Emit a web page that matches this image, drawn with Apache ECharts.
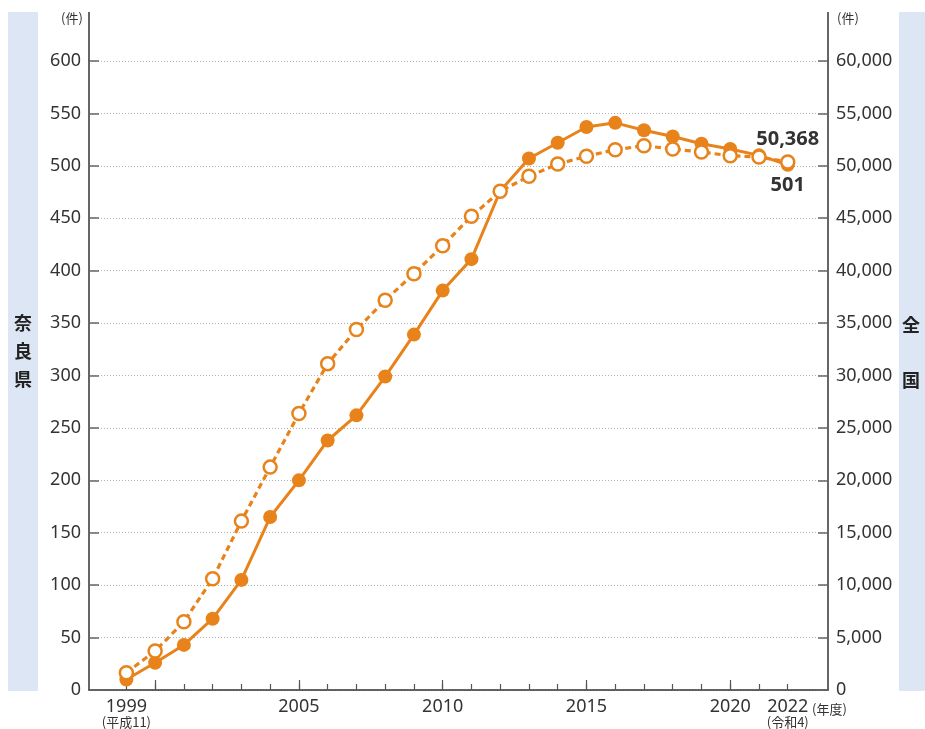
<!DOCTYPE html>
<html>
<head>
<meta charset="utf-8">
<script src="https://cdn.jsdelivr.net/npm/echarts@6/dist/echarts.min.js"></script>
<style>
  html, body { margin: 0; padding: 0; background: #fff; }
  #container { width: 925px; height: 729px; }
</style>
</head>
<body>
<div id="container"></div>
<script>
/*データ*/
var years = [1999, 2000, 2001, 2002, 2003, 2004, 2005, 2006, 2007, 2008, 2009, 2010,
    2011, 2012, 2013, 2014, 2015, 2016, 2017, 2018, 2019, 2020, 2021, 2022];
/*奈良県（左軸）*/
var naraValues = [10, 26, 43, 68, 105, 165, 200, 238, 262, 299, 339, 381,
    411, 476, 507, 522, 537, 541, 534, 528, 521, 516, 510, 501];
/*全国（右軸）*/
var zenkokuValues = [1650, 3720, 6510, 10610, 16110, 21260, 26370, 31130, 34380, 37180, 39710, 42380,
    45190, 47570, 49000, 50170, 50910, 51540, 51920, 51600, 51320, 50960, 50840, 50368];
/*軸ラベル*/
var xLabelYears = [1999, 2005, 2010, 2015, 2020, 2022];
var xSubLabels = { 1999: '(平成11)', 2022: '(令和4)' };
var xMajorTicks = [2000, 2005, 2010, 2015, 2020];

var ORANGE = '#e8831b';
var TEXT = '#333';
var FONT = '"Noto Sans", "Noto Sans CJK JP", sans-serif';
var CJK = '"Noto Sans CJK JP", "Noto Sans", sans-serif';

function pairs(vals) {
    var out = [];
    for (var i = 0; i < years.length; i++) {
        out.push([years[i], vals[i]]);
    }
    return out;
}

var naraData = pairs(naraValues);
var zenkokuData = pairs(zenkokuValues);

/*最後の点にラベル*/
var last = years.length - 1;
naraData[last] = {
    value: naraData[last],
    label: {
        show: true, position: 'bottom', distance: 4,
        fontFamily: FONT, fontSize: 20, fontWeight: 'bold', color: TEXT,
        formatter: function (p) { return p.value[1]; }
    }
};
zenkokuData[last] = {
    value: zenkokuData[last],
    label: {
        show: true, position: 'top', distance: 5,
        fontFamily: FONT, fontSize: 20, fontWeight: 'bold', color: TEXT,
        formatter: function (p) { return p.value[1].toLocaleString('en-US'); }
    }
};

var dom = document.getElementById('container');
var myChart = echarts.init(dom);

var option = {
    animation: false,
    grid: { left: 89, right: 97, top: 61, bottom: 36 },
    xAxis: [{
        type: 'value',
        min: 1997.7,
        max: 2023.4,
        axisLine: { show: true, onZero: false, lineStyle: { color: '#333', width: 1.5 } },
        axisTick: {
            show: true, inside: true, length: 6,
            customValues: years,
            lineStyle: { color: '#555', width: 1.2 }
        },
        axisLabel: {
            customValues: xLabelYears,
            margin: 8,
            color: TEXT,
            fontFamily: FONT,
            fontSize: 18,
            lineHeight: 18,
            formatter: function (v) {
                var s = xSubLabels[v];
                return s ? v + '\n{s|' + s + '}' : String(v);
            },
            rich: {
                s: { fontFamily: CJK, fontSize: 13, lineHeight: 13, color: TEXT }
            }
        },
        splitLine: { show: false }
    }, {
        type: 'value',
        position: 'bottom',
        min: 1997.7,
        max: 2023.4,
        axisLine: { show: false },
        axisTick: {
            show: true, inside: true, length: 10,
            customValues: xMajorTicks,
            lineStyle: { color: '#555', width: 1.2 }
        },
        axisLabel: { show: false },
        splitLine: { show: false }
    }],
    yAxis: [{
        type: 'value',
        position: 'left',
        min: 0, max: 600, interval: 50,
        axisLine: { show: true, lineStyle: { color: '#333', width: 1.5 } },
        axisTick: { show: true, inside: true, length: 10, lineStyle: { color: '#666', width: 1.5 } },
        axisLabel: { margin: 8, color: TEXT, fontFamily: FONT, fontSize: 18 },
        splitLine: { show: true, lineStyle: { color: '#b0b0b0', type: [1, 2], width: 1 } }
    }, {
        type: 'value',
        position: 'right',
        min: 0, max: 60000, interval: 5000,
        axisLine: { show: true, lineStyle: { color: '#333', width: 1.5 } },
        axisTick: { show: true, inside: true, length: 10, lineStyle: { color: '#666', width: 1.5 } },
        axisLabel: {
            margin: 8, color: TEXT, fontFamily: FONT, fontSize: 18,
            formatter: function (v) { return v.toLocaleString('en-US'); }
        },
        splitLine: { show: false }
    }],
    graphic: [
        /*左右の帯*/
        { type: 'rect', left: 8, top: 12, shape: { width: 30, height: 679 }, style: { fill: '#dce6f4' }, z: -10 },
        { type: 'rect', left: 899, top: 12, shape: { width: 30, height: 679 }, style: { fill: '#dce6f4' }, z: -10 },
        { type: 'text', x: 23, y: 323, style: { text: '奈', font: 'bold 18px ' + CJK, fill: '#222', align: 'center', verticalAlign: 'middle' } },
        { type: 'text', x: 23, y: 351, style: { text: '良', font: 'bold 18px ' + CJK, fill: '#222', align: 'center', verticalAlign: 'middle' } },
        { type: 'text', x: 23, y: 379, style: { text: '県', font: 'bold 18px ' + CJK, fill: '#222', align: 'center', verticalAlign: 'middle' } },
        { type: 'text', x: 911, y: 325, style: { text: '全', font: 'bold 18px ' + CJK, fill: '#222', align: 'center', verticalAlign: 'middle' } },
        { type: 'text', x: 911, y: 380, style: { text: '国', font: 'bold 18px ' + CJK, fill: '#222', align: 'center', verticalAlign: 'middle' } },
        /*単位*/
        { type: 'text', x: 72, y: 18, style: { text: '(件)', font: '13px ' + CJK, fill: TEXT, align: 'center', verticalAlign: 'middle' } },
        { type: 'text', x: 848, y: 18, style: { text: '(件)', font: '13px ' + CJK, fill: TEXT, align: 'center', verticalAlign: 'middle' } },
        { type: 'text', x: 812, y: 709, style: { text: '(年度)', font: '13px ' + CJK, fill: TEXT, align: 'left', verticalAlign: 'middle' } },
        /*軸線の上部延長*/
        { type: 'line', shape: { x1: 89, y1: 12, x2: 89, y2: 61 }, style: { stroke: '#333', lineWidth: 1.5 } },
        { type: 'line', shape: { x1: 828, y1: 12, x2: 828, y2: 61 }, style: { stroke: '#333', lineWidth: 1.5 } }
    ],
    series: [{
        name: '奈良県',
        type: 'line',
        xAxisIndex: 0,
        yAxisIndex: 0,
        data: naraData,
        symbol: 'circle',
        symbolSize: 14,
        lineStyle: { color: ORANGE, width: 3 },
        itemStyle: { color: ORANGE },
        z: 2
    }, {
        name: '全国',
        type: 'line',
        xAxisIndex: 0,
        yAxisIndex: 1,
        data: zenkokuData,
        symbol: 'circle',
        symbolSize: 13,
        lineStyle: { color: ORANGE, width: 3.2, type: [6, 4] },
        itemStyle: { color: '#fff', borderColor: ORANGE, borderWidth: 2.5 },
        z: 3
    }]
};

if (option && typeof option === 'object') {
    myChart.setOption(option, true);
}
</script>
</body>
</html>
